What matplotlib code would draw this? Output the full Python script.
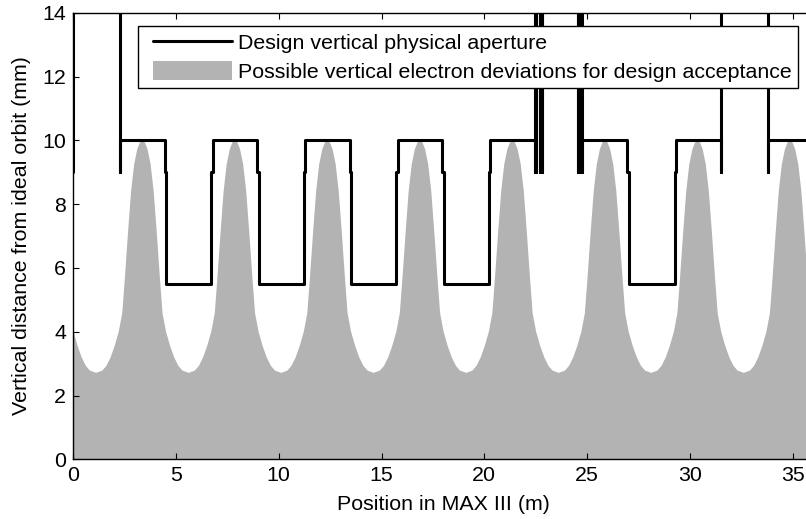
import matplotlib
matplotlib.use("Agg")
import matplotlib.pyplot as plt
from matplotlib.legend_handler import HandlerLine2D, HandlerPolyCollection

# ---- data ----
envelope_x = [
    0.00, 0.22, 0.42, 0.62, 0.82,
    1.12, 1.42, 1.62, 1.82, 2.02, 2.22, 2.39, 2.52, 2.67, 2.82, 2.97, 3.12, 3.25, 3.37, 3.49, 3.62, 3.77, 3.92, 4.07, 4.22, 4.35, 4.52, 4.72, 4.92, 5.12, 5.32,
    5.62, 5.92, 6.12, 6.32, 6.52, 6.72, 6.89, 7.02, 7.17, 7.32, 7.47, 7.62, 7.75, 7.87, 7.99, 8.12, 8.27, 8.42, 8.57, 8.72, 8.85, 9.02, 9.22, 9.42, 9.62, 9.82,
    10.12, 10.42, 10.62, 10.82, 11.02, 11.22, 11.39, 11.52, 11.67, 11.82, 11.97, 12.12, 12.25, 12.37, 12.49, 12.62, 12.77, 12.92, 13.07, 13.22, 13.35, 13.52, 13.72, 13.92, 14.12, 14.32,
    14.62, 14.92, 15.12, 15.32, 15.52, 15.72, 15.89, 16.02, 16.17, 16.32, 16.47, 16.62, 16.75, 16.87, 16.99, 17.12, 17.27, 17.42, 17.57, 17.72, 17.85, 18.02, 18.22, 18.42, 18.62, 18.82,
    19.12, 19.42, 19.62, 19.82, 20.02, 20.22, 20.39, 20.52, 20.67, 20.82, 20.97, 21.12, 21.25, 21.37, 21.49, 21.62, 21.77, 21.92, 22.07, 22.22, 22.35, 22.52, 22.72, 22.92, 23.12, 23.32,
    23.62, 23.92, 24.12, 24.32, 24.52, 24.72, 24.89, 25.02, 25.17, 25.32, 25.47, 25.62, 25.75, 25.87, 25.99, 26.12, 26.27, 26.42, 26.57, 26.72, 26.85, 27.02, 27.22, 27.42, 27.62, 27.82,
    28.12, 28.42, 28.62, 28.82, 29.02, 29.22, 29.39, 29.52, 29.67, 29.82, 29.97, 30.12, 30.25, 30.37, 30.49, 30.62, 30.77, 30.92, 31.07, 31.22, 31.35, 31.52, 31.72, 31.92, 32.12, 32.32,
    32.62, 32.92, 33.12, 33.32, 33.52, 33.72, 33.89, 34.02, 34.17, 34.32, 34.47, 34.62, 34.75, 34.87, 34.99, 35.12, 35.27, 35.42, 35.57, 35.72, 35.85, 36.00,
]
envelope_y = [
    4.05, 3.55, 3.19, 2.93, 2.78,
    2.71, 2.78, 2.93, 3.19, 3.55, 4.00, 4.58, 5.70, 7.10, 8.40, 9.25, 9.72, 9.93, 10.0, 9.93, 9.72, 9.25, 8.40, 7.10, 5.70, 4.58, 4.00, 3.55, 3.19, 2.93, 2.78,
    2.71, 2.78, 2.93, 3.19, 3.55, 4.00, 4.58, 5.70, 7.10, 8.40, 9.25, 9.72, 9.93, 10.0, 9.93, 9.72, 9.25, 8.40, 7.10, 5.70, 4.58, 4.00, 3.55, 3.19, 2.93, 2.78,
    2.71, 2.78, 2.93, 3.19, 3.55, 4.00, 4.58, 5.70, 7.10, 8.40, 9.25, 9.72, 9.93, 10.0, 9.93, 9.72, 9.25, 8.40, 7.10, 5.70, 4.58, 4.00, 3.55, 3.19, 2.93, 2.78,
    2.71, 2.78, 2.93, 3.19, 3.55, 4.00, 4.58, 5.70, 7.10, 8.40, 9.25, 9.72, 9.93, 10.0, 9.93, 9.72, 9.25, 8.40, 7.10, 5.70, 4.58, 4.00, 3.55, 3.19, 2.93, 2.78,
    2.71, 2.78, 2.93, 3.19, 3.55, 4.00, 4.58, 5.70, 7.10, 8.40, 9.25, 9.72, 9.93, 10.0, 9.93, 9.72, 9.25, 8.40, 7.10, 5.70, 4.58, 4.00, 3.55, 3.19, 2.93, 2.78,
    2.71, 2.78, 2.93, 3.19, 3.55, 4.00, 4.58, 5.70, 7.10, 8.40, 9.25, 9.72, 9.93, 10.0, 9.93, 9.72, 9.25, 8.40, 7.10, 5.70, 4.58, 4.00, 3.55, 3.19, 2.93, 2.78,
    2.71, 2.78, 2.93, 3.19, 3.55, 4.00, 4.58, 5.70, 7.10, 8.40, 9.25, 9.72, 9.93, 10.0, 9.93, 9.72, 9.25, 8.40, 7.10, 5.70, 4.58, 4.00, 3.55, 3.19, 2.93, 2.78,
    2.71, 2.78, 2.93, 3.19, 3.55, 4.00, 4.58, 5.70, 7.10, 8.40, 9.25, 9.72, 9.93, 10.0, 9.93, 9.72, 9.25, 8.40, 7.10, 5.70, 4.58, 4.05,
]

aperture_x = [
    0.00, 0.00, 2.28, 2.28, 2.28,
    4.45, 4.45, 4.53, 4.53, 6.72, 6.72, 6.80, 6.80,
    8.95, 8.95, 9.02, 9.02, 11.22, 11.22, 11.29, 11.29,
    13.45, 13.45, 13.52, 13.52, 15.72, 15.72, 15.79, 15.79,
    17.95, 17.95, 18.02, 18.02, 20.22, 20.22, 20.29, 20.29,
    22.45, 22.45, 22.45, 22.50, 22.50, 22.50, 22.71, 22.71, 22.71, 22.79, 22.79, 22.79,
    24.55, 24.55, 24.55, 24.66, 24.66, 24.66, 24.77, 24.77, 24.77,
    26.95, 26.95, 27.02, 27.02, 29.26, 29.26, 29.34, 29.34,
    31.50, 31.50, 31.50, 33.82, 33.82, 33.82, 36.00,
]
aperture_y = [
    9.0, 20.0, 20.0, 9.0, 10.0,
    10.0, 9.0, 9.0, 5.5, 5.5, 9.0, 9.0, 10.0,
    10.0, 9.0, 9.0, 5.5, 5.5, 9.0, 9.0, 10.0,
    10.0, 9.0, 9.0, 5.5, 5.5, 9.0, 9.0, 10.0,
    10.0, 9.0, 9.0, 5.5, 5.5, 9.0, 9.0, 10.0,
    10.0, 9.0, 20.0, 20.0, 9.0, 20.0, 20.0, 9.0, 20.0, 20.0, 9.0, 20.0,
    20.0, 9.0, 20.0, 20.0, 9.0, 20.0, 20.0, 9.0, 10.0,
    10.0, 9.0, 9.0, 5.5, 5.5, 9.0, 9.0, 10.0,
    10.0, 9.0, 20.0, 20.0, 9.0, 10.0, 10.0,
]

x_ticks = [0, 5, 10, 15, 20, 25, 30, 35]
y_ticks = [0, 2, 4, 6, 8, 10, 12, 14]
label_aperture = "Design vertical physical aperture"
label_envelope = "Possible vertical electron deviations for design acceptance"

# ---- figure ----
plt.rcParams['font.family'] = ['Liberation Sans', 'DejaVu Sans']
FS = 15.4

fig = plt.figure(figsize=(8.06, 5.19), dpi=100)
ax = fig.add_axes([73.1 / 806, (519 - 459.3) / 519, 740.2 / 806, 446.6 / 519])

fill = ax.fill_between(envelope_x, 0, envelope_y, facecolor='#b3b3b3',
                       edgecolor='none', linewidth=0, zorder=1)
line, = ax.plot(aperture_x, aperture_y, color='black', linewidth=2.2,
                solid_joinstyle='round', solid_capstyle='round', zorder=2)

ax.set_xlim(0, 36)
ax.set_ylim(0, 14)
ax.set_xticks(x_ticks)
ax.set_yticks(y_ticks)
ax.tick_params(direction='in', length=4, width=0.8, top=True, right=True,
               labelsize=FS, pad=5, colors='black')
for s in ax.spines.values():
    s.set_linewidth(1.0)

ax.set_xlabel("Position in MAX III (m)", fontsize=FS, labelpad=7)
ax.set_ylabel("Vertical distance from ideal orbit (mm)", fontsize=FS, labelpad=8)

leg = ax.legend([line, fill], [label_aperture, label_envelope],
                loc='upper left', bbox_to_anchor=(0.0873, 0.970),
                borderaxespad=0, fontsize=FS, frameon=True, fancybox=False,
                edgecolor='black', framealpha=1, borderpad=0.3,
                handlelength=4.1, handleheight=1.0, handletextpad=0.28,
                labelspacing=0.36,
                handler_map={line: HandlerLine2D(xpad=0.43),
                             fill: HandlerPolyCollection(xpad=0.43)})
leg.get_frame().set_linewidth(1.0)

fig.savefig("out.png", dpi=100)
